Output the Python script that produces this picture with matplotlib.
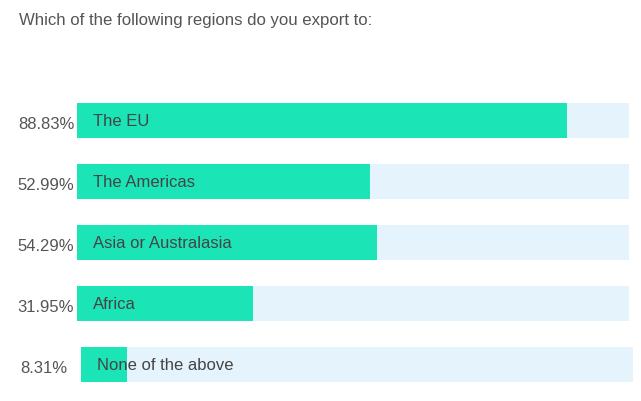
import matplotlib
matplotlib.use("Agg")
import matplotlib.pyplot as plt
from matplotlib.transforms import ScaledTranslation

plt.rcParams['font.family'] = ['Liberation Sans', 'DejaVu Sans']

title = "Which of the following regions do you export to:"
categories = ["The EU", "The Americas", "Asia or Australasia", "Africa", "None of the above"]
values = [88.83, 52.99, 54.29, 31.95, 8.31]
pct_labels = ["88.83%", "52.99%", "54.29%", "31.95%", "8.31%"]

W, H = 641, 402
fig = plt.figure(figsize=(W / 100, H / 100), dpi=100)
fig.patch.set_facecolor('white')

left_px, right_px = 77, 629
top_px, bot_px = 91, 396
ax = fig.add_axes([left_px / W, (H - bot_px) / H, (right_px - left_px) / W, (bot_px - top_px) / H])
ax.set_xlim(0, 100)
ax.set_ylim(len(categories) - 0.5, -0.5)
ax.axis('off')

green = '#1be4b7'
bg = '#e5f3fd'
bh = 0.59
ys = list(range(len(categories)))

bgs = ax.barh(ys, [100] * len(ys), height=bh, color=bg, zorder=1)
fgs = ax.barh(ys, values, height=bh, color=green, zorder=2)

# last row shifted slightly to the right in the reference
shift = ScaledTranslation(4 / 100, 0, fig.dpi_scale_trans)
for p in (bgs[-1], fgs[-1]):
    p.set_transform(ax.transData + shift)
    p.set_clip_on(False)

pct_tr = ax.transData + ScaledTranslation(0, -3 / 100, fig.dpi_scale_trans)

for i, (cat, pct) in enumerate(zip(categories, pct_labels)):
    if i < len(categories) - 1:
        ax.text(-0.5, i, pct, ha='right', va='center', fontsize=12, color='#555555',
                zorder=3, transform=pct_tr)
        ax.text(2.9, i, cat, ha='left', va='center', fontsize=12, color='#444444', zorder=3)
    else:
        ax.text(-1.8, i, pct, ha='right', va='center', fontsize=12, color='#555555',
                zorder=3, transform=pct_tr)
        ax.text(3.6, i, cat, ha='left', va='center', fontsize=12, color='#444444', zorder=3)

fig.text(19 / W, 1 - 21 / H, title, ha='left', va='center', fontsize=12.1, color='#555555')

fig.savefig('out.png', dpi=100, facecolor='white')
